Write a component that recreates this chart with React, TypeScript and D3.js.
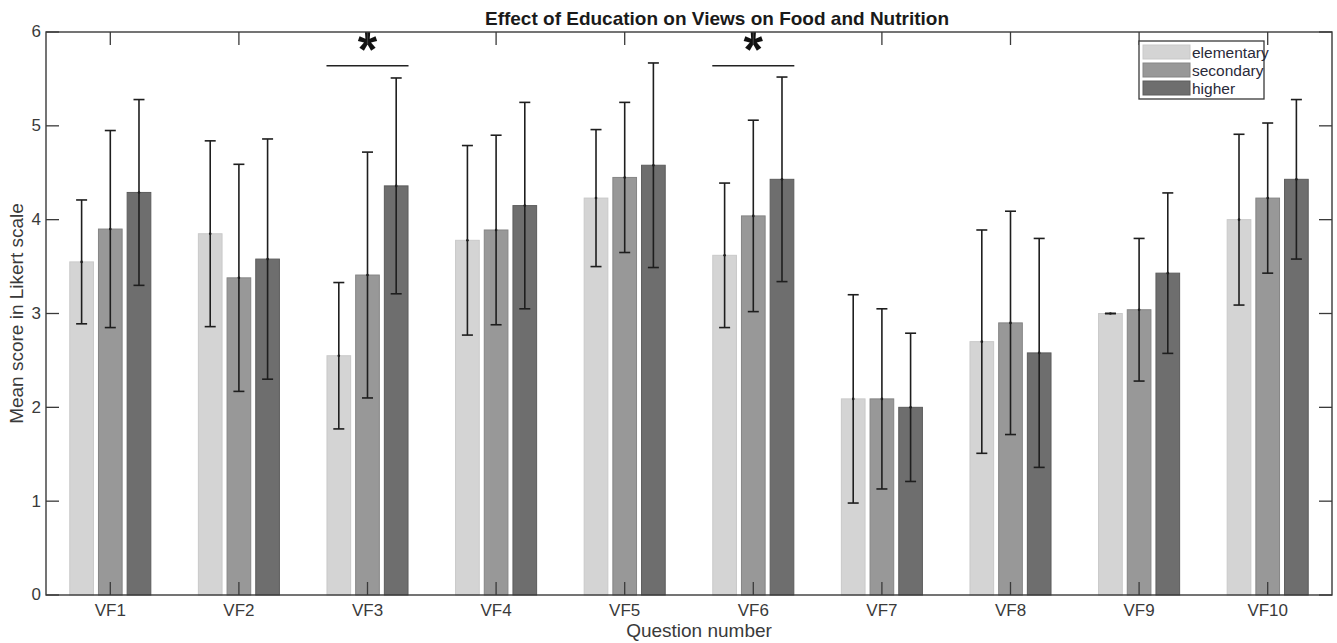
import React, { useEffect, useRef } from "react";
import * as d3 from "d3";

const width = 1337;
const height = 643;
const margin = { top: 32, right: 5, bottom: 48, left: 46 };

const categories = ["VF1", "VF2", "VF3", "VF4", "VF5", "VF6", "VF7", "VF8", "VF9", "VF10"];
const seriesNames = ["elementary", "secondary", "higher"];
const seriesColors = ["#d4d4d4", "#989898", "#6e6e6e"];
const seriesEdges = ["#c9c9c9", "#858585", "#5c5c5c"];

// mean scores per education level
const elementaryMeans = [3.55, 3.85, 2.55, 3.78, 4.23, 3.62, 2.09, 2.7, 3.0, 4.0];
const secondaryMeans = [3.9, 3.38, 3.41, 3.89, 4.45, 4.04, 2.09, 2.9, 3.04, 4.23];
const higherMeans = [4.29, 3.58, 4.36, 4.15, 4.58, 4.43, 2.0, 2.58, 3.43, 4.43];

// standard deviations (error bars)
const elementarySd = [0.66, 0.99, 0.78, 1.01, 0.73, 0.77, 1.11, 1.19, 0, 0.91];
const secondarySd = [1.05, 1.21, 1.31, 1.01, 0.8, 1.02, 0.96, 1.19, 0.76, 0.8];
const higherSd = [0.99, 1.28, 1.15, 1.1, 1.09, 1.09, 0.79, 1.22, 0.855, 0.85];

const yTicks = [0, 1, 2, 3, 4, 5, 6];

// significance bars
const sigCategories = ["VF3", "VF6"];
const sigLevels = [5.64, 5.64];

const means = [elementaryMeans, secondaryMeans, higherMeans];
const sds = [elementarySd, secondarySd, higherSd];

const font = "'Liberation Sans', Arial, sans-serif";
const tickLen = 13;

export default function App() {
  const xAxisRef = useRef<SVGGElement>(null);
  const yAxisRef = useRef<SVGGElement>(null);
  const topAxisRef = useRef<SVGGElement>(null);
  const rightAxisRef = useRef<SVGGElement>(null);

  const x0 = d3
    .scaleBand()
    .domain(categories)
    .range([margin.left, width - margin.right])
    .paddingInner(0.362)
    .paddingOuter(0.181);

  const x1 = d3
    .scaleBand()
    .domain(seriesNames)
    .range([0, x0.bandwidth()])
    .paddingInner(0.14);

  const y = d3
    .scaleLinear()
    .domain([0, 6])
    .range([height - margin.bottom, margin.top]);

  const center = (c: string) => (x0(c) as number) + x0.bandwidth() / 2;

  useEffect(() => {
    const style = (g: d3.Selection<SVGGElement, unknown, null, undefined>) => {
      g.select(".domain").remove();
      g.selectAll(".tick line").attr("stroke", "#3a3a3a").attr("stroke-width", 1.3);
      g.selectAll(".tick text")
        .attr("fill", "#3a3a3a")
        .style("font-family", font)
        .style("font-size", "17px");
    };

    const xAxis = d3
      .axisBottom(x0)
      .tickSizeInner(-tickLen)
      .tickSizeOuter(0)
      .tickPadding(8)
      .offset(0);
    d3.select(xAxisRef.current!).call(xAxis).call(style);
    d3.select(xAxisRef.current!).selectAll(".tick text").attr("dy", "0.75em").attr("y", 8);

    const yAxis = d3
      .axisLeft(y)
      .tickValues(yTicks)
      .tickFormat(d3.format("d"))
      .tickSizeInner(-tickLen)
      .tickSizeOuter(0)
      .tickPadding(5)
      .offset(0);
    d3.select(yAxisRef.current!).call(yAxis).call(style);

    const topAxis = d3.axisTop(x0).tickSizeInner(-tickLen).tickSizeOuter(0).tickFormat(() => "").offset(0);
    d3.select(topAxisRef.current!).call(topAxis).call(style);

    const rightAxis = d3
      .axisRight(y)
      .tickValues(yTicks)
      .tickSizeInner(-tickLen)
      .tickSizeOuter(0)
      .tickFormat(() => "")
      .offset(0);
    d3.select(rightAxisRef.current!).call(rightAxis).call(style);
  }, []);

  const bw = x1.bandwidth();
  const capW = 11;

  return (
    <svg
      width={width}
      height={height}
      style={{ position: "absolute", left: 0, top: 0, background: "#fff" }}
    >
      <rect x={0} y={0} width={width} height={height} fill="#fff" />

      {categories.map((c, ci) => (
        <g key={c} transform={`translate(${x0(c)},0)`}>
          {seriesNames.map((s, si) => {
            const v = means[si][ci];
            return (
              <rect
                key={s}
                x={(x1(s) as number) + 0.5}
                y={y(v)}
                width={bw - 1}
                height={y(0) - y(v)}
                fill={seriesColors[si]}
                stroke={seriesEdges[si]}
                strokeWidth={1}
              />
            );
          })}
          {seriesNames.map((s, si) => {
            const v = means[si][ci];
            const e = sds[si][ci];
            const cx = (x1(s) as number) + bw / 2;
            return (
              <g key={s} stroke="#1e1e1e" strokeWidth={1.6}>
                <line x1={cx} x2={cx} y1={y(v + e)} y2={y(v - e)} />
                <line x1={cx - capW / 2} x2={cx + capW / 2} y1={y(v + e)} y2={y(v + e)} />
                <line x1={cx - capW / 2} x2={cx + capW / 2} y1={y(v - e)} y2={y(v - e)} />
                <circle cx={cx} cy={y(v)} r={1.3} fill="#1e1e1e" stroke="none" />
              </g>
            );
          })}
        </g>
      ))}

      {sigCategories.map((c, i) => (
        <g key={c}>
          <line
            x1={x0(c) as number}
            x2={(x0(c) as number) + x0.bandwidth()}
            y1={y(sigLevels[i])}
            y2={y(sigLevels[i])}
            stroke="#222"
            strokeWidth={1.6}
          />
          <text
            x={center(c)}
            y={y(sigLevels[i]) + 1}
            textAnchor="middle"
            fontFamily={font}
            fontWeight="bold"
            fontSize={50}
            fill="#111"
          >
            *
          </text>
        </g>
      ))}

      <g ref={xAxisRef} transform={`translate(0, ${height - margin.bottom})`} />
      <g ref={yAxisRef} transform={`translate(${margin.left}, 0)`} />
      <g ref={topAxisRef} transform={`translate(0, ${margin.top})`} />
      <g ref={rightAxisRef} transform={`translate(${width - margin.right}, 0)`} />

      <rect
        x={margin.left}
        y={margin.top}
        width={width - margin.left - margin.right}
        height={height - margin.top - margin.bottom}
        fill="none"
        stroke="#3a3a3a"
        strokeWidth={1.4}
      />

      <g transform="translate(1139, 41)">
        <rect x={0} y={0} width={125} height={58} fill="#fff" stroke="#3a3a3a" strokeWidth={1.3} />
        {seriesNames.map((s, si) => (
          <g key={s} transform={`translate(4, ${4 + si * 18})`}>
            <rect x={0} y={0} width={47} height={14} fill={seriesColors[si]} stroke={seriesEdges[si]} />
            <text x={49} y={12.5} fontFamily={font} fontSize={15.5} fill="#2a2a3a">
              {s}
            </text>
          </g>
        ))}
      </g>

      <text
        x={717}
        y={25}
        textAnchor="middle"
        fontFamily={font}
        fontWeight="bold"
        fontSize={19}
        fill="#1a1a1a"
      >
        Effect of Education on Views on Food and Nutrition
      </text>
      <text
        x={(margin.left + width - margin.right) / 2 + 10}
        y={637}
        textAnchor="middle"
        fontFamily={font}
        fontSize={19}
        fill="#3a3a3a"
      >
        Question number
      </text>
      <text
        transform={`translate(23, ${(margin.top + height - margin.bottom) / 2}) rotate(-90)`}
        textAnchor="middle"
        fontFamily={font}
        fontSize={19}
        fill="#3a3a3a"
      >
        Mean score in Likert scale
      </text>
    </svg>
  );
}
